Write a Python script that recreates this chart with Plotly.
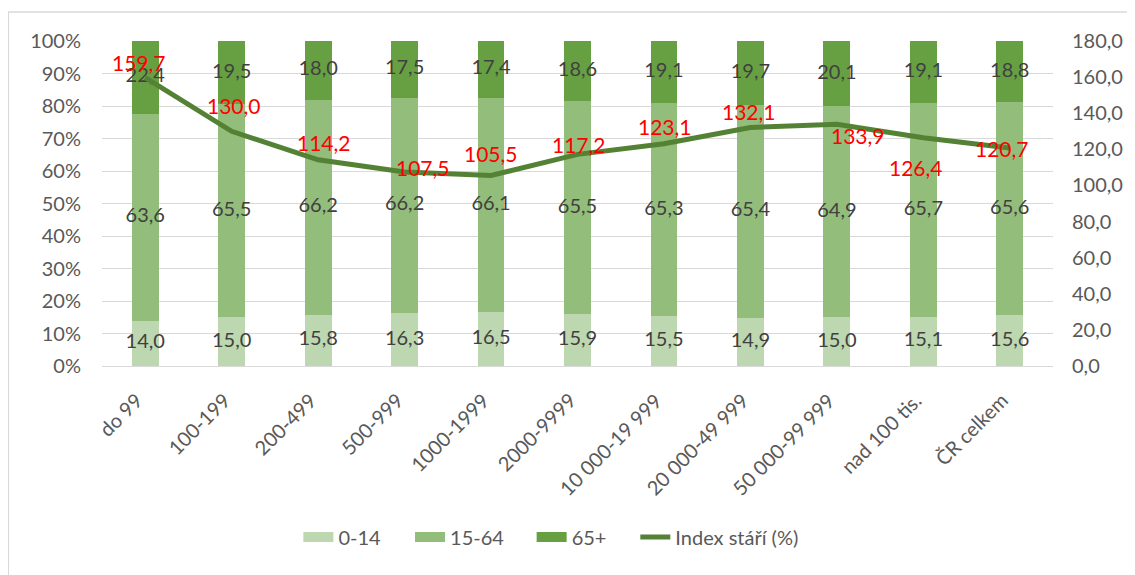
import plotly.graph_objects as go

categories = ["do 99", "100-199", "200-499", "500-999", "1000-1999", "2000-9999",
              "10 000-19 999", "20 000-49 999", "50 000-99 999", "nad 100 tis.", "ČR celkem"]
age_0_14 = [14.0, 15.0, 15.8, 16.3, 16.5, 15.9, 15.5, 14.9, 15.0, 15.1, 15.6]
age_15_64 = [63.6, 65.5, 66.2, 66.2, 66.1, 65.5, 65.3, 65.4, 64.9, 65.7, 65.6]
age_65 = [22.4, 19.5, 18.0, 17.5, 17.4, 18.6, 19.1, 19.7, 20.1, 19.1, 18.8]
index_stari = [159.7, 130.0, 114.2, 107.5, 105.5, 117.2, 123.1, 132.1, 133.9, 126.4, 120.7]

# label placement offsets (pixels) for the red index labels
label_dx = [-6, 2, 6, 18, 0, 1, 1, -1, 21, -7, -8]
label_dy = [15, 26, 17, 4, 22, 10, 17, 16, -11, -30, 0]

FONT = "Lato, Carlito, Calibri, sans-serif"
TXT = "#595959"
COLORS = ["#BDD7B1", "#93BD7B", "#67A042"]
LINE_C = "#548235"

# figure geometry (page body adds an 8px margin)
W, H = 1127, 567
L, R, T, B = 94, 79, 33, 209
PW, PH = W - L - R, H - T - B

fig = go.Figure()
series = [("0-14", age_0_14, COLORS[0]), ("15-64", age_15_64, COLORS[1]), ("65+", age_65, COLORS[2])]
for name, vals, col in series:
    fig.add_trace(go.Bar(x=categories, y=vals, name=name, showlegend=False,
                         marker=dict(color=col, line_width=0), hoverinfo="skip"))

# segment value labels, centred in each stacked segment
base = [0.0] * len(categories)
for name, vals, col in series:
    mids = [b + v / 2 for b, v in zip(base, vals)]
    fig.add_trace(go.Scatter(x=categories, y=mids, mode="text", showlegend=False,
                             text=[f"{v:.1f}".replace(".", ",") for v in vals],
                             textposition="middle center", cliponaxis=False, hoverinfo="skip",
                             textfont=dict(family=FONT, size=20, color="#404040")))
    base = [b + v for b, v in zip(base, vals)]

fig.add_trace(go.Scatter(x=categories, y=index_stari, name="Index stáří (%)", mode="lines",
                         line=dict(color=LINE_C, width=5), yaxis="y2", showlegend=False))

# legend entries (each in its own legend box, placed like the original)
legend_names = ["legend", "legend2", "legend3", "legend4"]
legend_left_px = [291, 403, 525, 629]
entries = [(n, c, 14) for n, _, c in series] + [("Index stáří (%)", LINE_C, 5)]
for (name, col, lw), lg in zip(entries, legend_names):
    fig.add_trace(go.Scatter(x=[None], y=[None], mode="lines", name=name, legend=lg,
                             line=dict(color=col, width=lw), showlegend=True))

for c, v, dx, dy in zip(categories, index_stari, label_dx, label_dy):
    fig.add_annotation(x=c, y=v, yref="y2", text=f"{v:.1f}".replace(".", ","), showarrow=False,
                       xshift=dx, yshift=dy, font=dict(family=FONT, size=21, color="#FF0000"))

# category labels, rotated like the original
for c in categories:
    fig.add_annotation(x=c, y=0, yref="paper", text=c, showarrow=False, textangle=-45,
                       xanchor="right", yanchor="top", xshift=5, yshift=-19,
                       font=dict(family=FONT, size=20, color=TXT))

legend_layout = {}
for lg, lx in zip(legend_names, legend_left_px):
    legend_layout[lg] = dict(orientation="h", x=(lx - L) / PW, xanchor="left",
                             y=(T + PH - 529) / PH, yanchor="middle", bgcolor="rgba(0,0,0,0)",
                             font=dict(family=FONT, size=20, color=TXT), itemwidth=30)

fig.update_layout(
    width=W, height=H,
    margin=dict(l=L, r=R, t=T, b=B),
    paper_bgcolor="white", plot_bgcolor="white",
    barmode="stack", bargap=0.69,
    separators=", ",
    font=dict(family=FONT, size=20, color=TXT),
    xaxis=dict(range=[-0.5, len(categories) - 0.5], autorange=False, showticklabels=False,
               showgrid=False, showline=True, linecolor="#D9D9D9", linewidth=1, ticks=""),
    yaxis=dict(range=[0, 100], dtick=10, ticksuffix="%", showgrid=True, gridcolor="#D9D9D9",
               gridwidth=1, zeroline=False, ticks="", ticklabelstandoff=20,
               tickfont=dict(family=FONT, size=20, color=TXT)),
    yaxis2=dict(range=[0, 180], dtick=20, tickformat=".1f", overlaying="y", side="right",
                showgrid=False, zeroline=False, ticks="", ticklabelstandoff=18,
                tickfont=dict(family=FONT, size=20, color=TXT)),
    shapes=[dict(type="rect", xref="paper", yref="paper",
                 x0=(0 - L) / PW, x1=(W + 20 - L) / PW,
                 y0=(T + PH - (H + 20)) / PH, y1=(T + PH - 4) / PH,
                 line=dict(color="#D9D9D9", width=1.5), fillcolor="rgba(0,0,0,0)", layer="below")],
    **legend_layout,
)

fig.write_html("out.html")
